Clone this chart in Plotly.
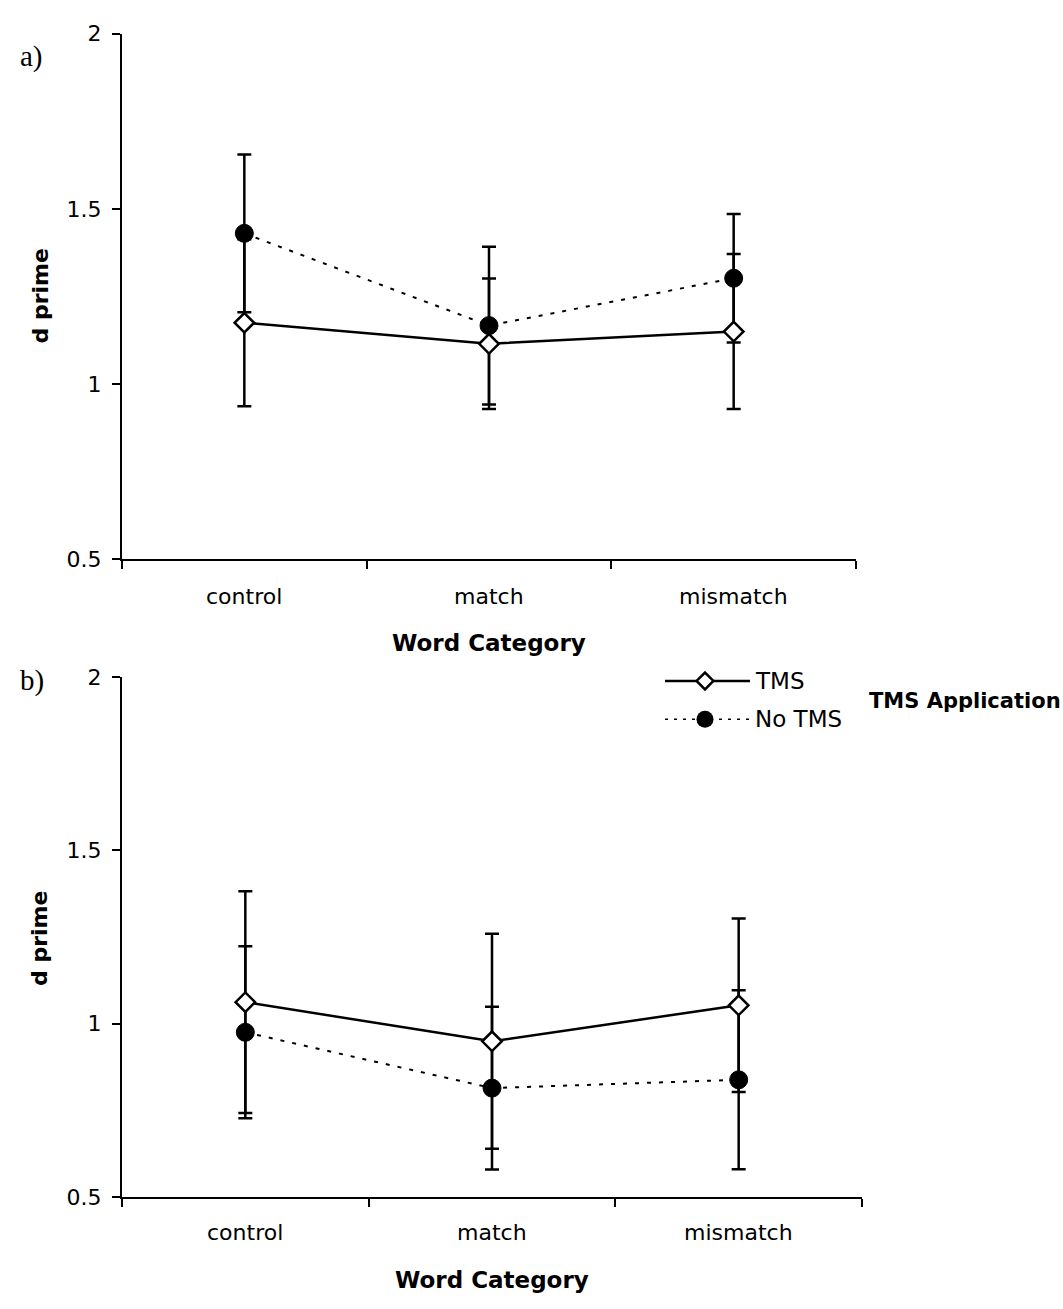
import plotly.graph_objects as go

# ---- data -------------------------------------------------------------
categories = ["control", "match", "mismatch"]

# panel a)
a_tms = [1.175, 1.115, 1.150]
a_tms_err = [0.238, 0.186, 0.221]
a_notms = [1.430, 1.167, 1.302]
a_notms_err = [0.225, 0.225, 0.183]

# panel b)
b_tms = [1.062, 0.949, 1.053]
b_tms_err = [0.320, 0.310, 0.250]
b_notms = [0.975, 0.814, 0.838]
b_notms_err = [0.248, 0.235, 0.258]

y_ticks = [0.5, 1, 1.5, 2]
series_names = ["TMS", "No TMS"]
legend_title = "TMS Application"
x_title = "Word Category"
y_title = "d prime"

# ---- geometry helpers (pixel -> paper) --------------------------------
W, H = 1063, 1309


def px(x):
    return x / W


def py(y):
    return 1 - y / H


FONT = "DejaVu Sans, Arial, sans-serif"
SERIF = "Liberation Serif, Times New Roman, serif"
BLACK = "#000000"
CLEAR = "rgba(0,0,0,0)"

xi = list(range(len(categories)))

fig = go.Figure()

panels = [
    ("x", "y", a_tms, a_tms_err, a_notms, a_notms_err),
    ("x2", "y2", b_tms, b_tms_err, b_notms, b_notms_err),
]

for xa, ya, tms, tms_e, no, no_e in panels:
    # error bars first so every marker sits on top of them
    for vals, errs in ((no, no_e), (tms, tms_e)):
        fig.add_trace(go.Scatter(
            x=xi, y=vals, xaxis=xa, yaxis=ya, mode="markers",
            marker=dict(size=1, color=CLEAR),
            error_y=dict(type="data", array=errs, visible=True,
                         color=BLACK, thickness=2.5, width=7),
            showlegend=False, hoverinfo="skip"))
    # TMS: solid line, open diamonds
    fig.add_trace(go.Scatter(
        x=xi, y=tms, xaxis=xa, yaxis=ya, mode="lines+markers",
        line=dict(color=BLACK, width=2.5),
        marker=dict(symbol="diamond", size=15, color="white",
                    line=dict(color=BLACK, width=2.5)),
        showlegend=False))
    # No TMS: dotted line, filled circles
    fig.add_trace(go.Scatter(
        x=xi, y=no, xaxis=xa, yaxis=ya, mode="lines+markers",
        line=dict(color=BLACK, width=2, dash="4px,8px"),
        marker=dict(symbol="circle", size=18, color=BLACK,
                    line=dict(color=BLACK, width=1)),
        showlegend=False))

# ---- legend keys on a pixel-space overlay axis ------------------------
leg_rows = [682, 721]
leg_x0, leg_x1, leg_mark = 665, 750, 705
fig.add_trace(go.Scatter(
    x=[leg_x0, leg_x1], y=[leg_rows[0]] * 2, xaxis="x3", yaxis="y3",
    mode="lines", line=dict(color=BLACK, width=2.5),
    showlegend=False, hoverinfo="skip"))
fig.add_trace(go.Scatter(
    x=[leg_mark], y=[leg_rows[0]], xaxis="x3", yaxis="y3", mode="markers",
    marker=dict(symbol="diamond", size=13, color="white",
                line=dict(color=BLACK, width=2.5)),
    showlegend=False, hoverinfo="skip"))
fig.add_trace(go.Scatter(
    x=[leg_x0, leg_x1], y=[leg_rows[1]] * 2, xaxis="x3", yaxis="y3",
    mode="lines", line=dict(color=BLACK, width=1.5, dash="3px,6px"),
    showlegend=False, hoverinfo="skip"))
fig.add_trace(go.Scatter(
    x=[leg_mark], y=[leg_rows[1]], xaxis="x3", yaxis="y3", mode="markers",
    marker=dict(symbol="circle", size=17, color=BLACK),
    showlegend=False, hoverinfo="skip"))

# ---- axes -------------------------------------------------------------
boundaries = [i - 0.5 for i in range(len(categories) + 1)]


def xaxis_cfg(x0, x1, anchor):
    return dict(domain=[px(x0), px(x1)], anchor=anchor,
                range=[-0.5, len(categories) - 0.5],
                tickmode="array", tickvals=boundaries,
                ticktext=[""] * len(boundaries),
                ticks="outside", ticklen=8, tickwidth=2, tickcolor=BLACK,
                showline=True, linecolor=BLACK, linewidth=2,
                showgrid=False, zeroline=False, fixedrange=True)


def yaxis_cfg(y0, y1, anchor):
    return dict(domain=[py(y1), py(y0)], anchor=anchor,
                range=[0.5, 2], tickmode="array", tickvals=y_ticks,
                ticks="outside", ticklen=8, tickwidth=2, tickcolor=BLACK,
                ticklabelstandoff=6,
                showline=True, linecolor=BLACK, linewidth=2,
                showgrid=False, zeroline=False,
                tickfont=dict(family=FONT, size=22, color=BLACK),
                fixedrange=True)


AX_A = (122, 856, 22, 558)
AX_B = (122, 862, 678, 1208)

fig.update_layout(
    width=W, height=H,
    margin=dict(l=0, r=0, t=0, b=0),
    paper_bgcolor="white", plot_bgcolor=CLEAR,
    showlegend=False,
    xaxis=xaxis_cfg(AX_A[0], AX_A[1], "y"),
    yaxis=yaxis_cfg(AX_A[2], AX_A[3], "x"),
    xaxis2=xaxis_cfg(AX_B[0], AX_B[1], "y2"),
    yaxis2=yaxis_cfg(AX_B[2], AX_B[3], "x2"),
    xaxis3=dict(domain=[0, 1], range=[0, W], visible=False,
                anchor="y3", fixedrange=True),
    yaxis3=dict(domain=[0, 1], range=[H, 0], visible=False,
                anchor="x3", fixedrange=True),
)

# ---- text -------------------------------------------------------------
ann = []
for xa, (x0, x1, y0, y1), title_y, ylab_y, tick_y, tag, tag_y in (
    ("x", AX_A, 643, 290, 596, "a)", 45),
    ("x2", AX_B, 1293, 945, 1244, "b)", 682),
):
    for i, c in enumerate(categories):
        ann.append(dict(x=i, xref=xa, y=py(tick_y), yref="paper",
                        text=c, showarrow=False, xanchor="center",
                        yanchor="middle",
                        font=dict(family=FONT, size=22, color=BLACK)))
    ann.append(dict(x=px((x0 + x1) / 2), xref="paper", y=py(title_y),
                    yref="paper", text=f"<b>{x_title}</b>",
                    showarrow=False, xanchor="center", yanchor="middle",
                    font=dict(family=FONT, size=23, color=BLACK)))
    ann.append(dict(x=px(40), xref="paper", y=py(ylab_y), yref="paper",
                    text=f"<b>{y_title}</b>", textangle=-90,
                    showarrow=False, xanchor="center", yanchor="middle",
                    font=dict(family=FONT, size=22, color=BLACK)))
    ann.append(dict(x=px(18), xref="paper", y=py(tag_y), yref="paper",
                    text=tag, showarrow=False, xanchor="left",
                    yanchor="middle",
                    font=dict(family=SERIF, size=29, color=BLACK)))

for name, ry in zip(series_names, leg_rows):
    ann.append(dict(x=px(753), xref="paper", y=py(ry), yref="paper",
                    text=name, showarrow=False, xanchor="left",
                    yanchor="middle",
                    font=dict(family=FONT, size=23, color=BLACK)))
ann.append(dict(x=px(867), xref="paper", y=py(702), yref="paper",
                text=f"<b>{legend_title}</b>", showarrow=False,
                xanchor="left", yanchor="middle",
                font=dict(family=FONT, size=21, color=BLACK)))

fig.update_layout(annotations=ann)

fig.write_html("out.html")
